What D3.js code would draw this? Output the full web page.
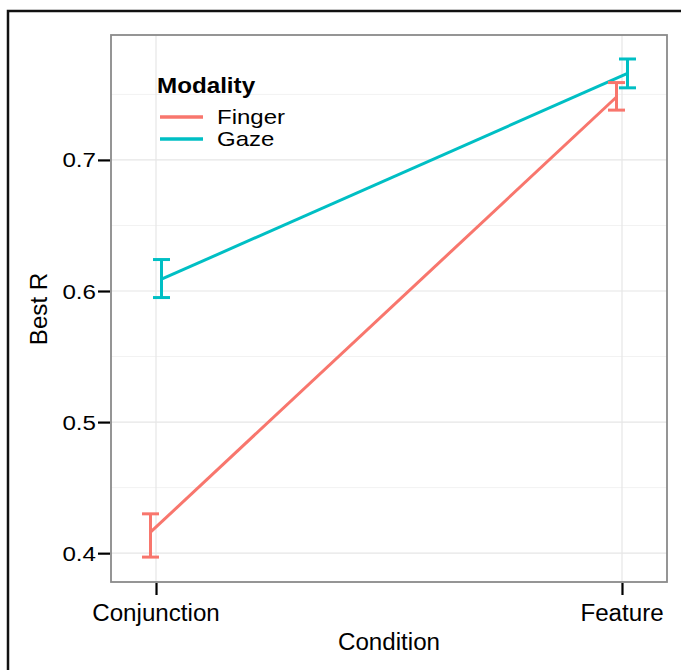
<!DOCTYPE html>
<html>
<head>
<meta charset="utf-8">
<script src="https://cdn.jsdelivr.net/npm/d3@7"></script>
<style>
  html, body { margin: 0; padding: 0; background: #fff; }
  svg { display: block; }
  text { font-family: "Liberation Sans", Arial, Helvetica, sans-serif; fill: #000; }
</style>
</head>
<body>
<svg id="chart" width="681" height="670"></svg>
<script>
// ---- data ----
const categories = ["Conjunction", "Feature"];
const modalities = ["Finger", "Gaze"];
const fingerMean = [0.416, 0.748];
const fingerLow  = [0.397, 0.738];
const fingerHigh = [0.430, 0.759];
const gazeMean   = [0.609, 0.766];
const gazeLow    = [0.595, 0.755];
const gazeHigh   = [0.624, 0.777];
const yTicks = [0.4, 0.5, 0.6, 0.7];
const yMinor = [0.45, 0.55, 0.65, 0.75];
const yDomain = [0.378, 0.7953];

const colors = { Finger: "#F8766D", Gaze: "#00BFC4" };
const series = [
  { name: "Finger", mean: fingerMean, lo: fingerLow, hi: fingerHigh },
  { name: "Gaze",   mean: gazeMean,   lo: gazeLow,   hi: gazeHigh }
];

// ---- layout ----
const panel = { left: 111, right: 667, top: 35, bottom: 582 };
const dodge = { Finger: -5.5, Gaze: 5.5 };
const SX = 1.1; // horizontal text stretch of original

const svg = d3.select("#chart");

// outer frame
svg.append("rect")
  .attr("x", 8).attr("y", 11)
  .attr("width", 700).attr("height", 700)
  .attr("fill", "none").attr("stroke", "#111").attr("stroke-width", 2.5);

const x = d3.scalePoint().domain(categories)
  .range([panel.left, panel.right]).padding(0.0966);
const y = d3.scaleLinear().domain(yDomain).range([panel.bottom, panel.top]);

function stretchedText(g, tx, ty, str, opts = {}) {
  const sx = opts.sx || SX;
  const rot = opts.rotate ? ` rotate(${opts.rotate})` : "";
  const t = g.append("text")
    .attr("transform", `translate(${tx},${ty})${rot} scale(${sx},1)`)
    .attr("text-anchor", opts.anchor || "start")
    .style("font-size", (opts.size || 22) + "px")
    .text(str);
  if (opts.bold) t.style("font-weight", "bold");
  return t;
}

// grid
const grid = svg.append("g");
grid.selectAll("line.minor").data(yMinor).join("line")
  .attr("x1", panel.left).attr("x2", panel.right)
  .attr("y1", d => y(d)).attr("y2", d => y(d))
  .attr("stroke", "#f2f2f2").attr("stroke-width", 1);
grid.selectAll("line.major").data(yTicks).join("line")
  .attr("x1", panel.left).attr("x2", panel.right)
  .attr("y1", d => y(d)).attr("y2", d => y(d))
  .attr("stroke", "#e6e6e6").attr("stroke-width", 1.2);
grid.selectAll("line.vx").data(categories).join("line")
  .attr("x1", d => x(d)).attr("x2", d => x(d))
  .attr("y1", panel.top).attr("y2", panel.bottom)
  .attr("stroke", "#e6e6e6").attr("stroke-width", 1.2);

// axes (ticks only, labels custom)
const yAxis = d3.axisLeft(y).tickValues(yTicks).tickSize(12).tickFormat("");
const yg = svg.append("g").attr("transform", `translate(${panel.left - 1},0)`).call(yAxis);
yg.select(".domain").remove();
yg.selectAll(".tick line").attr("stroke", "#000").attr("stroke-width", 2.2);

const xAxis = d3.axisBottom(x).tickSize(12).tickFormat("");
const xg = svg.append("g").attr("transform", `translate(0,${panel.bottom + 1})`).call(xAxis);
xg.select(".domain").remove();
xg.selectAll(".tick line").attr("stroke", "#000").attr("stroke-width", 2.2);

// tick labels
yTicks.forEach(v => {
  stretchedText(svg, 96, y(v) + 7.5, d3.format(".1f")(v), { anchor: "end", size: 21, sx: 1.15 });
});
categories.forEach(c => {
  stretchedText(svg, x(c), 621, c, { anchor: "middle", size: 23, sx: 1.05 });
});

// axis titles
stretchedText(svg, (panel.left + panel.right) / 2, 650, "Condition", { anchor: "middle", size: 23, sx: 1.05 });
stretchedText(svg, 47, 309, "Best R", { anchor: "middle", size: 23, sx: 1.05, rotate: -90 });

// panel border
svg.append("rect")
  .attr("x", panel.left).attr("y", panel.top)
  .attr("width", panel.right - panel.left).attr("height", panel.bottom - panel.top)
  .attr("fill", "none").attr("stroke", "#8a8a8a").attr("stroke-width", 1.8);

// lines
const line = d3.line()
  .x(d => x(d.cat) + dodge[d.name])
  .y(d => y(d.v));
series.forEach(s => {
  const pts = categories.map((c, i) => ({ cat: c, v: s.mean[i], name: s.name }));
  svg.append("path").datum(pts)
    .attr("d", line)
    .attr("fill", "none")
    .attr("stroke", colors[s.name])
    .attr("stroke-width", 3);
});

// error bars
const capHalf = 8.5;
series.forEach(s => {
  const g = svg.append("g").attr("stroke", colors[s.name]).attr("stroke-width", 3).attr("fill", "none");
  categories.forEach((c, i) => {
    const cx = x(c) + dodge[s.name];
    g.append("line").attr("x1", cx).attr("x2", cx).attr("y1", y(s.lo[i])).attr("y2", y(s.hi[i]));
    g.append("line").attr("x1", cx - capHalf).attr("x2", cx + capHalf).attr("y1", y(s.lo[i])).attr("y2", y(s.lo[i]));
    g.append("line").attr("x1", cx - capHalf).attr("x2", cx + capHalf).attr("y1", y(s.hi[i])).attr("y2", y(s.hi[i]));
  });
});

// legend
const lg = svg.append("g");
stretchedText(lg, 157, 93, "Modality", { size: 22, bold: true, sx: 1.1 });
modalities.forEach((m, i) => {
  const yy = 117 + i * 22;
  lg.append("line").attr("x1", 160).attr("x2", 203).attr("y1", yy).attr("y2", yy)
    .attr("stroke", colors[m]).attr("stroke-width", 3.5);
  stretchedText(lg, 217, yy + 7, m, { size: 20, sx: 1.2 });
});
</script>
</body>
</html>
